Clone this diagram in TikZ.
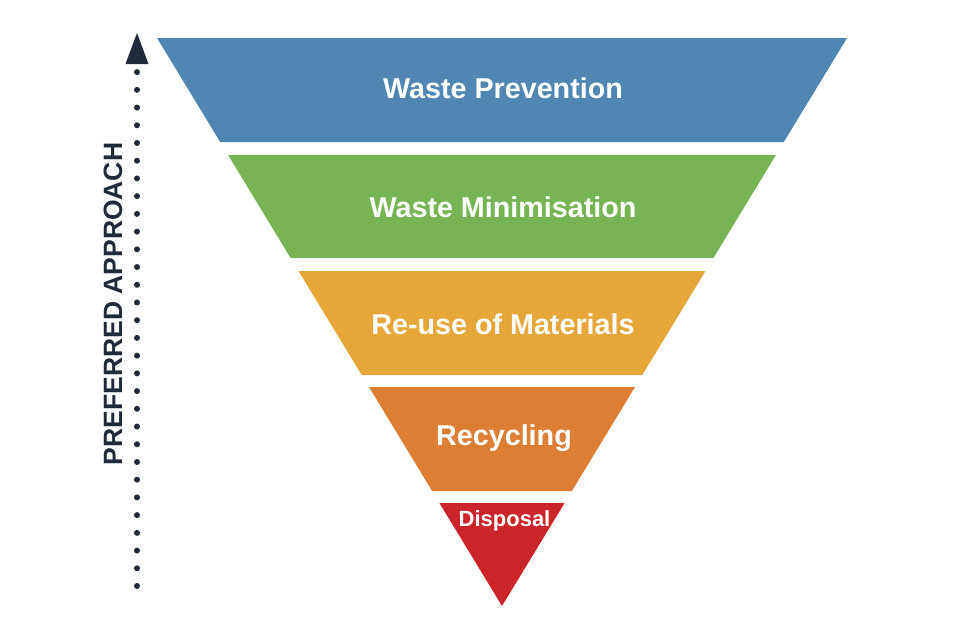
\documentclass[tikz,border=0pt]{standalone}
\usepackage{fontspec}
\setmainfont{Liberation Sans}
\definecolor{cblue}{HTML}{4F86B3}
\definecolor{cgreen}{HTML}{78B354}
\definecolor{cyellow}{HTML}{E6A63A}
\definecolor{corange}{HTML}{DC7F34}
\definecolor{cred}{HTML}{C9252B}
\definecolor{cnavy}{HTML}{1F2A3A}
\begin{document}
\begin{tikzpicture}[x=1pt,y=-1pt,
  bandlabel/.style={text=white,font=\bfseries\fontsize{28.7}{30}\selectfont,inner sep=0pt,anchor=base},
  smalllabel/.style={text=white,font=\bfseries\fontsize{22}{24}\selectfont,inner sep=0pt,anchor=base}]
\useasboundingbox (0,0) rectangle (960,640);
\fill[white] (0,0) rectangle (960,640);
% bands
\fill[cblue]   (157,38) -- (847,38) -- (783.8,142) -- (220.2,142) -- cycle;
\fill[cgreen]  (228.1,155) -- (775.9,155) -- (713.4,258) -- (290.6,258) -- cycle;
\fill[cyellow] (298.5,271) -- (705.5,271) -- (642.3,375) -- (361.7,375) -- cycle;
\fill[corange] (369,387) -- (635,387) -- (571.9,491) -- (432.1,491) -- cycle;
\fill[cred]    (439.4,503) -- (564.6,503) -- (502,606) -- cycle;
% labels
\node[bandlabel] (prev) at (503,98) {Waste Prevention};
\node[bandlabel] (mini) at (503,217) {Waste Minimisation};
\node[bandlabel] (reuse) at (503,334) {Re-use of Materials};
\node[bandlabel] (recy) at (504,445) {Recycling};
\node[smalllabel] (disp) at (504.5,526.5) {Disposal};
% arrow
\coordinate (arrowbot) at (137,586);
\coordinate (arrowdots) at (137,71.5);
\coordinate (arrowtop) at (137,33);
\draw[cnavy,line width=6pt,line cap=round,dash pattern=on 0pt off 17.72pt] (arrowbot) -- (arrowdots);
\fill[cnavy] (arrowtop) -- (148.5,64) -- (125.5,64) -- cycle;
\node[text=cnavy,font=\bfseries\fontsize{26.5}{28}\selectfont,rotate=90,inner sep=0pt,anchor=center] (pref) at (113,304) {PREFERRED APPROACH};
\end{tikzpicture}
\end{document}
